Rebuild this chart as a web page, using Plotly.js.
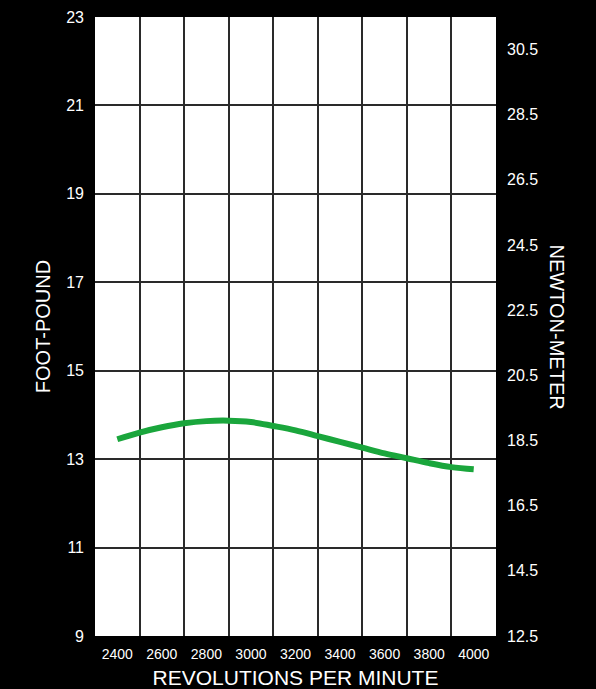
<!DOCTYPE html>
<html>
<head>
<meta charset="utf-8">
<script src="https://cdn.plot.ly/plotly-3.0.1.min.js"></script>
<style>
  html, body { margin: 0; padding: 0; background: #000; }
  #chart { width: 596px; height: 689px; }
</style>
</head>
<body>
<div id="chart"></div>
<script>
// Data
const rpm = [2400, 2500, 2600, 2700, 2800, 2900, 3000, 3100, 3200, 3300, 3400, 3500, 3600, 3700, 3800, 3900, 4000];
const torqueFtLb = [13.45, 13.6, 13.72, 13.81, 13.86, 13.87, 13.84, 13.75, 13.65, 13.52, 13.39, 13.26, 13.13, 13.02, 12.91, 12.82, 12.77];

const rpmTicks = [2400, 2600, 2800, 3000, 3200, 3400, 3600, 3800, 4000];
const ftLbTicks = [9, 11, 13, 15, 17, 19, 21, 23];
const nmTicks = [12.5, 14.5, 16.5, 18.5, 20.5, 22.5, 24.5, 26.5, 28.5, 30.5];

const font = "'Liberation Sans', Arial, Helvetica, sans-serif";
const gridColor = '#2a2a2a';

const traces = [{
  x: rpm,
  y: torqueFtLb,
  type: 'scatter',
  mode: 'lines',
  line: { color: '#1aa63c', width: 6, shape: 'spline', smoothing: 1 },
  hoverinfo: 'skip',
  showlegend: false
}];

const layout = {
  width: 596,
  height: 689,
  margin: { l: 95, r: 100, t: 17, b: 53 },
  paper_bgcolor: '#000',
  plot_bgcolor: '#fff',
  font: { family: font, color: '#fff' },
  showlegend: false,
  xaxis: {
    range: [2300, 4100],
    tickvals: rpmTicks,
    ticktext: rpmTicks.map(String),
    showgrid: false,
    zeroline: false,
    showline: false,
    ticks: '',
    ticklabelstandoff: 8,
    tickfont: { size: 14, color: '#fff', family: font },
    minor: { tick0: 2300, dtick: 200, showgrid: true, gridcolor: gridColor, gridwidth: 2, ticks: '' },
    title: { text: 'REVOLUTIONS PER MINUTE', font: { size: 21, color: '#fff', family: font }, standoff: 9 },
    fixedrange: true
  },
  yaxis: {
    range: [9, 23],
    tickvals: ftLbTicks,
    ticktext: ftLbTicks.map(String),
    showgrid: true,
    gridcolor: gridColor,
    gridwidth: 2,
    zeroline: false,
    showline: false,
    ticks: '',
    ticklabelstandoff: 10,
    tickfont: { size: 16, color: '#fff', family: font },
    title: { text: 'FOOT-POUND', font: { size: 20, color: '#fff', family: font }, standoff: 10 },
    fixedrange: true
  },
  yaxis2: {
    overlaying: 'y',
    side: 'right',
    range: [12.5, 31.5],
    tickvals: nmTicks,
    ticktext: nmTicks.map(v => v.toFixed(1)),
    showgrid: false,
    zeroline: false,
    showline: false,
    ticks: '',
    ticklabelstandoff: 10,
    tickfont: { size: 16, color: '#fff', family: font },
    fixedrange: true
  },
  annotations: [{
    text: 'NEWTON-METER',
    xref: 'paper', yref: 'paper',
    x: 1, xshift: 61, y: 0.5,
    xanchor: 'center', yanchor: 'middle',
    textangle: 90,
    showarrow: false,
    font: { size: 20, color: '#fff', family: font }
  }]
};

// invisible trace to bind the right-hand axis
traces.push({ x: [rpm[0]], y: [nmTicks[0]], yaxis: 'y2', mode: 'markers', marker: { opacity: 0 }, hoverinfo: 'skip', showlegend: false });

Plotly.newPlot('chart', traces, layout, { staticPlot: true, displayModeBar: false });
</script>
</body>
</html>
